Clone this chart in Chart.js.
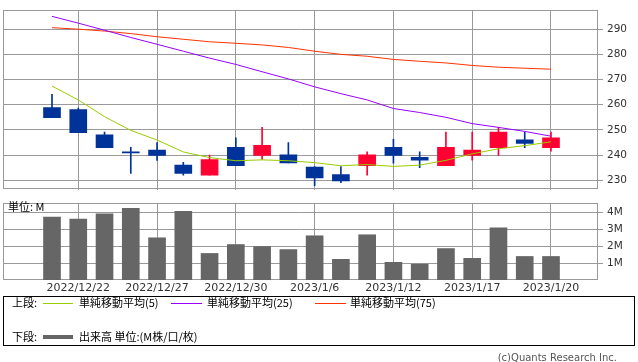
<!DOCTYPE html>
<html><head><meta charset="utf-8">
<script src="https://cdn.jsdelivr.net/npm/chart.js@4.4.0/dist/chart.umd.min.js"></script>
<style>
body{margin:0;background:#fff;width:638px;height:362px;position:relative;overflow:hidden;font-family:"Noto Sans CJK JP","DejaVu Sans",sans-serif;}
canvas{position:absolute;left:0;}
#c1{top:0;width:638px;height:200px}
#c2{top:190px;width:638px;height:105px}
.t{position:absolute;font-size:11px;line-height:13px;color:#000;white-space:nowrap}
.ln{position:absolute;height:1px}
#box{position:absolute;left:3px;top:296px;width:630px;height:48px;border:1px solid #000}
</style></head><body>
<canvas id="c1" width="638" height="200"></canvas>
<canvas id="c2" width="638" height="105"></canvas>
<div class="t" style="left:8px;top:200px">単位: M</div>
<div id="box"></div>
<div class="t" style="left:12px;top:296px">上段:</div>
<div class="ln" style="left:43px;top:303px;width:30px;background:#99cc00"></div>
<div class="t" style="left:79px;top:296px">単純移動平均(5)</div>
<div class="ln" style="left:171px;top:303px;width:31px;background:#9900ff"></div>
<div class="t" style="left:207px;top:296px">単純移動平均(25)</div>
<div class="ln" style="left:315px;top:303px;width:31px;background:#ff3300"></div>
<div class="t" style="left:350px;top:296px">単純移動平均(75)</div>
<div class="t" style="left:12px;top:330px">下段:</div>
<div class="ln" style="left:43px;top:335px;width:30px;height:4px;background:#666"></div>
<div class="t" style="left:79px;top:330px">出来高 単位:(M株/口/枚)</div>
<div class="t" style="right:21px;top:351px;font-family:'DejaVu Sans';font-size:10px;color:#555">(c)Quants Research Inc.</div>
<script>
const dates = ['2022/12/21','2022/12/22','2022/12/23','2022/12/26','2022/12/27','2022/12/28','2022/12/29','2022/12/30','2023/1/4','2023/1/5','2023/1/6','2023/1/10','2023/1/11','2023/1/12','2023/1/13','2023/1/16','2023/1/17','2023/1/18','2023/1/19','2023/1/20'];
const tickIdx = [1,4,7,10,13,16,19];
const openP  = [258.9,258.1,248.0,241.3,242.0,236.0,232.0,243.1,239.9,240.1,235.25,232.25,235.75,243.1,239.1,235.75,239.9,242.9,246.1,242.9];
const closeP = [254.9,248.9,242.9,240.9,239.9,232.75,238.25,235.75,243.9,236.9,230.9,229.75,240.1,239.9,238.0,243.1,242.0,249.1,244.6,246.9];
const highP  = [264.1,258.7,249.1,243.1,245.0,237.1,240.0,246.9,251.0,245.0,235.4,235.4,241.25,246.25,241.25,249.1,249.1,251.0,249.1,249.1];
const lowP   = [254.9,248.9,242.9,232.7,237.9,232.0,232.0,235.75,238.25,236.9,227.9,229.0,232.0,236.75,235.0,235.75,238.0,239.9,242.9,241.6];
const ma5  = [267.4,261.9,255.25,249.8,246.0,241.25,239.0,237.75,238.1,237.75,237.0,235.75,236.25,235.5,236.0,237.9,240.5,242.5,243.75,245.25];
const ma25 = [295.1,292.4,289.6,286.7,284.0,281.25,278.5,276.0,273.1,270.25,267.1,264.4,261.9,258.5,256.9,255.0,252.5,251.0,249.4,247.5];
const ma75 = [290.6,290.0,289.25,288.25,287.0,286.0,285.0,284.4,283.75,282.75,281.25,280.0,279.25,278.0,277.25,276.6,275.6,274.9,274.5,274.1];
const volume = [3.74,3.63,3.94,4.27,2.51,4.09,1.58,2.11,1.99,1.81,2.63,1.23,2.69,1.05,0.94,1.87,1.29,3.10,1.40,1.40];
const priceTicks = [230,240,250,260,270,280,290];
const volTicks = [1,2,3,4];

const UP='#ff0033', DOWN='#003399', GRID='#999999';
const XMIN=-1.866, XMAX=20.79;
const colors = openP.map((o,i)=> closeP[i]>=o ? UP : DOWN);

const borderPlugin = {id:'bd', beforeDatasetsDraw(chart){
  const a=chart.chartArea, c=chart.ctx; c.save(); c.strokeStyle=GRID; c.lineWidth=1;
  c.strokeRect(Math.round(a.left)+0.5, Math.round(a.top)+0.5, Math.round(a.right-a.left)-1, Math.round(a.bottom-a.top)-1); c.restore();
}};
function xScale(showLabels){
  return {type:'linear', min:XMIN, max:XMAX, offset:false,
    afterBuildTicks(s){ s.ticks = tickIdx.map(v=>({value:v})); },
    afterFit(s){ if(showLabels) s.height=15; },
    grid:{color:GRID, drawTicks:false, offset:false}, border:{display:false},
    ticks:{display:showLabels, autoSkip:false, maxRotation:0, padding:2, color:'#333', font:{family:'DejaVu Sans', size:11},
      callback:(v)=>dates[v]}};
}
const idx = dates.map((d,i)=>i);
new Chart(document.getElementById('c1'), {
  type:'bar',
  data:{datasets:[
    {type:'line', data:idx.map(i=>({x:i,y:ma5[i]})), borderColor:'#99cc00', borderWidth:1, pointRadius:0, order:0},
    {type:'line', data:idx.map(i=>({x:i,y:ma25[i]})), borderColor:'#9900ff', borderWidth:1, pointRadius:0, order:0},
    {type:'line', data:idx.map(i=>({x:i,y:ma75[i]})), borderColor:'#ff3300', borderWidth:1, pointRadius:0, order:0},
    {data:idx.map(i=>({x:i,y:[Math.min(openP[i],closeP[i]),Math.max(openP[i],closeP[i])]})), backgroundColor:colors, barThickness:17, grouped:false, order:1},
    {data:idx.map(i=>({x:i,y:[lowP[i],highP[i]]})), backgroundColor:colors, barThickness:1, grouped:false, order:2}
  ]},
  options:{responsive:false, animation:false, devicePixelRatio:1,
    layout:{padding:{left:3,top:0,right:0,bottom:10}},
    plugins:{legend:{display:false}, tooltip:{enabled:false}},
    scales:{
      x:xScale(false),
      y:{position:'right', min:226.25, max:297.5,
        afterBuildTicks(s){ s.ticks = priceTicks.map(v=>({value:v})); },
        afterFit(s){ s.width=40; },
        grid:{color:GRID, tickLength:5}, border:{display:false},
        ticks:{padding:4, color:'#333', font:{family:'DejaVu Sans', size:10.5}}}
    }},
  plugins:[borderPlugin]
});
new Chart(document.getElementById('c2'), {
  type:'bar',
  data:{datasets:[
    {data:idx.map(i=>({x:i,y:volume[i]})), backgroundColor:'#666666', barThickness:17}
  ]},
  options:{responsive:false, animation:false, devicePixelRatio:1,
    layout:{padding:{left:3,top:13,right:0,bottom:0}},
    plugins:{legend:{display:false}, tooltip:{enabled:false}},
    scales:{
      x:xScale(true),
      y:{position:'right', min:0, max:4.58,
        afterBuildTicks(s){ s.ticks = volTicks.map(v=>({value:v})); },
        afterFit(s){ s.width=40; },
        grid:{color:GRID, tickLength:5}, border:{display:false},
        ticks:{padding:4, color:'#333', font:{family:'DejaVu Sans', size:10.5}, callback:(v)=>v+'M'}}
    }},
  plugins:[borderPlugin]
});
</script>
</body></html>
